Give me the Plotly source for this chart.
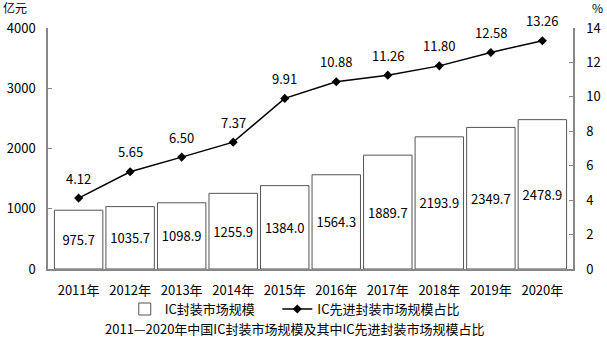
import plotly.graph_objects as go

years = ["2011年", "2012年", "2013年", "2014年", "2015年", "2016年", "2017年", "2018年", "2019年", "2020年"]
market = [975.7, 1035.7, 1098.9, 1255.9, 1384.0, 1564.3, 1889.7, 2193.9, 2349.7, 2478.9]
share = [4.12, 5.65, 6.50, 7.37, 9.91, 10.88, 11.26, 11.80, 12.58, 13.26]

FONT = "Noto Sans CJK SC"

fig = go.Figure()
fig.add_trace(go.Bar(
    x=years, y=market, name="IC封装市场规模      ",
    marker=dict(color="white", line=dict(color="#555555", width=1)),
    text=[f"{v:.1f}" for v in market], textposition="inside",
    insidetextanchor="middle", textfont=dict(size=13, color="black", family=FONT),
    width=0.94,
))
fig.add_trace(go.Scatter(
    x=years, y=share, name="IC先进封装市场规模占比", yaxis="y2",
    mode="lines+markers", line=dict(color="black", width=1.5),
    marker=dict(symbol="diamond", size=7, color="black"),
))
for x, v in zip(years, share):
    fig.add_annotation(x=x, y=v, yref="y2", text=f"{v:.2f}", showarrow=False,
                       yshift=20, font=dict(size=13, color="black", family=FONT))

fig.add_annotation(xref="paper", yref="paper", x=-0.09, y=1.0, yshift=10,
                   text="亿元", showarrow=False, xanchor="left", yanchor="bottom",
                   font=dict(size=12, color="black", family=FONT))
fig.add_annotation(xref="paper", yref="paper", x=1.032, y=1.0, yshift=10,
                   text="%", showarrow=False, xanchor="left", yanchor="bottom",
                   font=dict(size=12, color="black", family=FONT))
fig.add_annotation(xref="paper", yref="paper", x=0.47, y=0, yshift=-59,
                   text="2011—2020年中国IC封装市场规模及其中IC先进封装市场规模占比",
                   showarrow=False, xanchor="center", yanchor="middle",
                   font=dict(size=13, color="black", family=FONT))

fig.update_layout(
    width=607, height=339,
    margin=dict(l=48, r=34, t=28, b=70, autoexpand=False),
    paper_bgcolor="white", plot_bgcolor="white",
    font=dict(family=FONT, size=13, color="black"),
    showlegend=True,
    legend=dict(orientation="h", x=0.47, xanchor="center", y=-0.104, yanchor="top",
                yref="paper", font=dict(size=13, family=FONT),
                bgcolor="rgba(0,0,0,0)", itemwidth=30,
                tracegroupgap=0),
    bargap=0.06,
    xaxis=dict(showline=True, linecolor="#888888", linewidth=1.5, ticks="",
               tickfont=dict(size=13), showgrid=False, ticklabelstandoff=9,
               automargin=False),
    yaxis=dict(range=[0, 4000], dtick=1000, showline=True, linecolor="#888888",
               linewidth=1.5, ticks="inside", ticklen=4, tickcolor="#888888",
               showgrid=False, zeroline=False, tickfont=dict(size=13),
               ticklabelstandoff=8, automargin=False),
    yaxis2=dict(range=[0, 14], dtick=2, overlaying="y", side="right",
                showline=True, linecolor="#888888", linewidth=1.5,
                ticks="inside", ticklen=4, tickcolor="#888888",
                showgrid=False, zeroline=False, tickfont=dict(size=13),
                ticklabelstandoff=9, automargin=False),
)

fig.write_html("out.html")
